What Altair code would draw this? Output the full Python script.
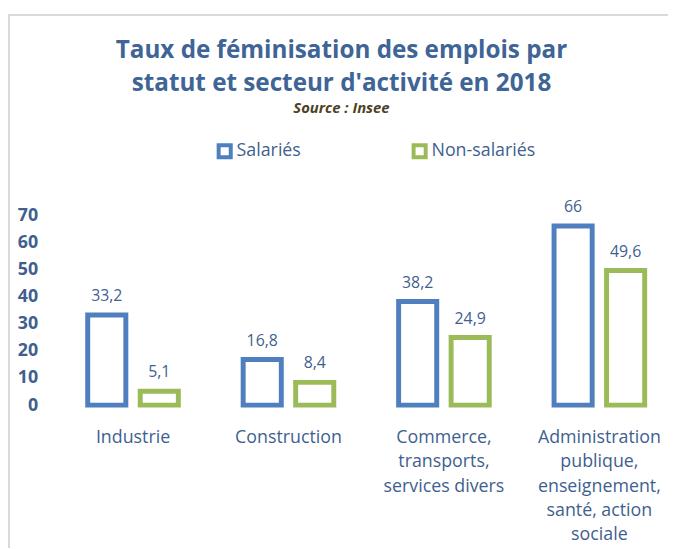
import altair as alt
import pandas as pd

categories = ["Industrie", "Construction", "Commerce,|transports,|services divers",
              "Administration|publique,|enseignement,|santé, action|sociale"]
salaries = [33.2, 16.8, 38.2, 66]
non_salaries = [5.1, 8.4, 24.9, 49.6]
series = ["Salariés", "Non-salariés"]
y_ticks = [0, 10, 20, 30, 40, 50, 60, 70]

rows = []
for c, s, n in zip(categories, salaries, non_salaries):
    rows.append({"cat": c, "serie": series[0], "val": s})
    rows.append({"cat": c, "serie": series[1], "val": n})
df = pd.DataFrame(rows)
df["lab"] = df["val"].map(lambda v: (f"{v:g}").replace(".", ","))

BLUE = "#4F7FBF"
GREEN = "#9BBB59"
TXT = "#3F5F8F"
FONT = "Open Sans"

x = alt.X("cat:N", sort=categories,
          scale=alt.Scale(paddingInner=0.417, paddingOuter=0.15),
          axis=alt.Axis(title=None, labelAngle=0, ticks=False, domain=False,
                        labelExpr="split(datum.label, '|')", labelFontSize=18,
                        labelColor=TXT, labelFont=FONT, labelPadding=24,
                        labelLineHeight=24.5, labelLimit=300, labelBaseline="top"))
xo = alt.XOffset("serie:N", sort=series, scale=alt.Scale(paddingInner=0.274, paddingOuter=0))
y = alt.Y("val:Q", scale=alt.Scale(domain=[0, 70], nice=False, zero=True),
          axis=alt.Axis(title=None, values=y_ticks, ticks=False, domain=False, grid=False,
                        labelFontSize=18, labelFontWeight="bold", labelColor=TXT,
                        labelFont=FONT, labelPadding=27))

base = alt.Chart(df)
bars = base.mark_bar(fill="white", strokeWidth=5).encode(
    x=x, xOffset=xo, y=y,
    stroke=alt.Stroke("serie:N", sort=series,
                      scale=alt.Scale(domain=series, range=[BLUE, GREEN]),
                      legend=alt.Legend(title=None, orient="none", legendX=153, legendY=-74,
                                        direction="horizontal", columns=2, symbolType="square",
                                        symbolSize=150, symbolStrokeWidth=4,
                                        symbolFillColor="white", labelFontSize=18,
                                        labelColor=TXT, labelFont=FONT, labelOffset=3,
                                        columnPadding=104)),
)
labels = base.mark_text(baseline="alphabetic", dy=-14, fontSize=16, color=TXT, font=FONT).encode(
    x=x, xOffset=xo, y=y, text="lab:N")

border_top = base.mark_rule(color="#d9d9d9", strokeWidth=1.5).encode(
    x=alt.value(-56), x2=alt.value(620), y=alt.value(-202.5))
border_left = base.mark_rule(color="#d9d9d9", strokeWidth=1.5).encode(
    x=alt.value(-56), y=alt.value(-202.5), y2=alt.value(340))

chart = alt.layer(border_top, border_left, bars, labels).properties(
    width=610, height=192,
    autosize=alt.AutoSizeParams(type="none"),
    padding={"left": 57, "top": 206.5, "right": 0, "bottom": 141},
    title=alt.TitleParams(
        text=["Taux de féminisation des emplois par", "statut et secteur d'activité en 2018"],
        subtitle="Source : Insee", anchor="middle", fontSize=24.5, font=FONT, fontWeight="bold",
        color="#3F6496", lineHeight=33, dx=-25, offset=-104,
        subtitleFont=FONT, subtitleFontSize=15, subtitleFontStyle="italic",
        subtitleFontWeight="bold", subtitleColor="#4D4226", subtitlePadding=5),
).configure_view(stroke=None)

chart.save("out.html", embed_options={"renderer": "svg", "actions": False})
